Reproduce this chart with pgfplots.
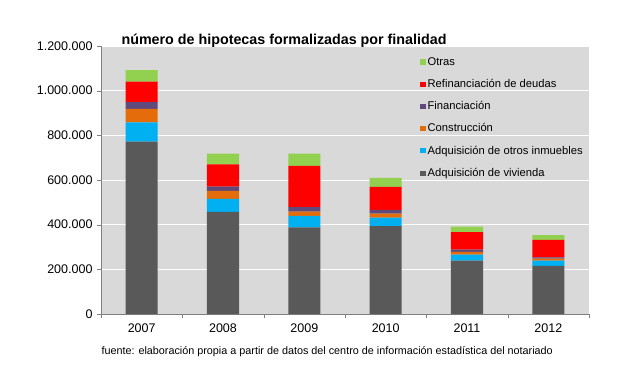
\documentclass[border=0pt]{standalone}
\usepackage{pgfplots}
\pgfplotsset{compat=1.18}
\usepackage{fontspec}
\setmainfont{Liberation Sans}
\definecolor{cviv}{HTML}{595959}
\definecolor{cotr}{HTML}{00B0F0}
\definecolor{ccon}{HTML}{E46C0A}
\definecolor{cfin}{HTML}{604A7B}
\definecolor{cref}{HTML}{FF0000}
\definecolor{cotras}{HTML}{92D050}
\definecolor{bg}{HTML}{D9D9D9}
\begin{document}
\begin{tikzpicture}[x=1pt,y=1pt]
\path[use as bounding box] (0,0) rectangle (640,376);
\begin{axis}[
  at={(101pt,62pt)}, anchor=south west,
  scale only axis, width=488pt, height=268pt,
  ybar stacked, bar width=32pt,
  ymin=0, ymax=1200000,
  xmin=-0.5, xmax=5.5,
  xtick={-0.5,0.5,1.5,2.5,3.5,4.5,5.5},
  x tick label as interval,
  xticklabels={2007,2008,2009,2010,2011,2012},
  ytick={0,200000,400000,600000,800000,1000000,1200000},
  yticklabels={0,200.000,400.000,600.000,800.000,1.000.000,1.200.000},
  scaled y ticks=false,
  axis background/.style={fill=bg},
  axis x line*=bottom, axis y line*=left,
  axis line style={draw=gray, line width=0.6pt, -},
  tick align=outside, major tick length=4pt,
  tick style={draw=gray},
  ymajorgrids, grid style={white, line width=1pt},
  ticklabel style={font=\fontsize{12.5}{14}\selectfont},
  yticklabel style={xshift=-1pt},
  xticklabel style={yshift=-2pt},
  reverse legend,
  legend style={at={(0.648,0.973)}, anchor=north west, draw=none, fill=none,
    font=\fontsize{11.2}{13}\selectfont, row sep=8.5pt,
    /tikz/every even column/.append style={column sep=1.5pt}},
  legend cell align=left,
  legend image code/.code={\fill[#1] (0.5pt,-2.6pt) rectangle (5.7pt,2.6pt);},
  every axis plot/.append style={draw=none},
]
\addplot[fill=cviv] coordinates {(0,771500) (1,457000) (2,388000) (3,394000) (4,239000) (5,215000)};
\addlegendentry{Adquisición de vivienda}
\addplot[fill=cotr] coordinates {(0,86500) (1,58000) (2,51000) (3,37000) (4,27000) (5,24000)};
\addlegendentry{Adquisición de otros inmuebles}
\addplot[fill=ccon] coordinates {(0,60000) (1,36000) (2,19000) (3,19000) (4,12000) (5,9000)};
\addlegendentry{Construcción}
\addplot[fill=cfin] coordinates {(0,31000) (1,19000) (2,20000) (3,16000) (4,10000) (5,6000)};
\addlegendentry{Financiación}
\addplot[fill=cref] coordinates {(0,91000) (1,100000) (2,185000) (3,103000) (4,79000) (5,78000)};
\addlegendentry{Refinanciación de deudas}
\addplot[fill=cotras] coordinates {(0,52500) (1,48000) (2,55000) (3,40000) (4,24000) (5,21000)};
\addlegendentry{Otras}
\end{axis}
\node[anchor=west, font=\bfseries\fontsize{14.3}{16}\selectfont] at (118,335) {número de hipotecas formalizadas por finalidad};
\node[anchor=west, font=\fontsize{10.8}{12}\selectfont] at (98,24) {fuente: elaboración propia a partir de datos del centro de información estadística del notariado};
\end{tikzpicture}
\end{document}
